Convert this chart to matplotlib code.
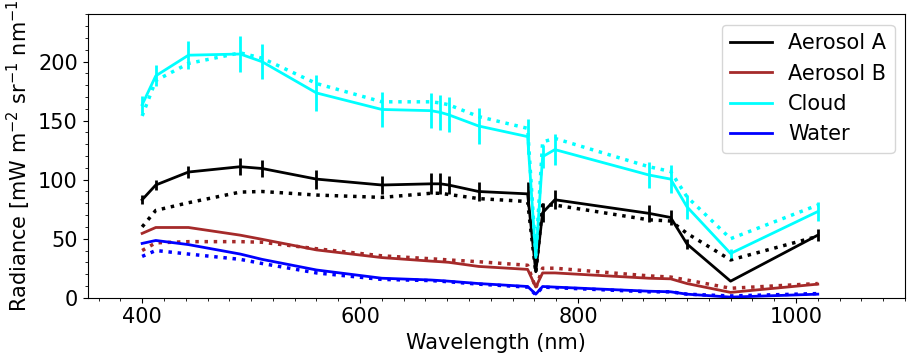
import numpy as np
import matplotlib
matplotlib.use("Agg")
import matplotlib.pyplot as plt
from matplotlib.ticker import MultipleLocator

# OLCI band centres (nm)
wl = [400, 412.5, 442.5, 490, 510, 560, 620, 665, 673.75, 681.25, 708.75,
      753.75, 761.25, 767.5, 778.75, 865, 885, 900, 940, 1020]

# Aerosol A
aer_a = [83, 95.5, 106.5, 111, 109.5, 100.5, 95.5, 96.5, 96.5, 95.5, 90,
         88, 22, 72, 83, 71.5, 68, 45.5, 14, 53]
aer_a_err = [4, 4, 5, 7, 7, 8, 8, 9, 9, 8, 8, 10, 0, 8, 8, 7, 6, 4, 0, 5]
aer_a_dot = [60, 74, 80.5, 89.5, 90, 87, 85, 88.5, 88.5, 87.5, 84, 81.5,
             21, 78.5, 78.5, 66, 65, 54.5, 32, 52]

# Aerosol B
aer_b = [54.5, 59.5, 59.5, 53, 49.5, 40.5, 34, 31, 30.5, 30, 26.5, 24, 9,
         21, 21, 16.5, 16, 12, 4.5, 11.5]
aer_b_dot = [40, 46.5, 47.5, 47.5, 47, 41.5, 35.5, 33, 32.5, 32, 30.5, 27.5,
             8, 25, 25, 18.5, 17.5, 15, 8, 12]

# Cloud
cloud = [163.5, 188, 205.5, 206.5, 200, 173.5, 159.5, 158.5, 157, 155, 145.5,
         136.5, 34, 119.5, 125.5, 104, 100.5, 77, 37.5, 73]
cloud_err = [7, 9, 12, 15, 15, 15, 15, 15, 15, 15, 15, 15, 0, 10, 13, 11,
             12, 10, 4, 8]
cloud_dot = [154, 184, 198.5, 207.5, 203, 181.5, 166, 166, 165, 163.5, 153.5,
             143.5, 36, 132, 135, 111, 107, 85.5, 50, 78.5]

# Water
water = [46, 48.5, 45, 37, 32.5, 23.5, 16.5, 15, 14.5, 14, 12, 9.5, 3, 9.5,
         9, 5.5, 5, 3, 0.5, 3]
water_dot = [35, 40, 37, 32.5, 29, 21, 15.5, 14.5, 14, 13.5, 11.5, 9, 2.5,
             9, 8.5, 5, 5, 3, 1.5, 3.5]

labels = ["Aerosol A", "Aerosol B", "Cloud", "Water"]
colours = ["black", "brown", "cyan", "blue"]

plt.rcParams['font.size'] = 15
fig = plt.figure(figsize=(9.15, 3.62), dpi=100)
ax = fig.add_axes([0.0958, 0.1776, 0.8932, 0.7824])

solid = [aer_a, aer_b, cloud, water]
dotted = [aer_a_dot, aer_b_dot, cloud_dot, water_dot]
errs = [aer_a_err, None, cloud_err, None]

for s, d, e, c, lab in zip(solid, dotted, errs, colours, labels):
    ax.plot(wl, s, color=c, lw=2, label=lab)
    if e is not None:
        ax.errorbar(wl, s, yerr=e, fmt='none', ecolor=c, elinewidth=2,
                    capsize=0)
    ax.plot(wl, d, color=c, lw=2.5, ls=':')

ax.set_xlim(350, 1100)
ax.set_ylim(0, 240)
ax.xaxis.set_major_locator(MultipleLocator(200))
ax.xaxis.set_minor_locator(MultipleLocator(20))
ax.yaxis.set_major_locator(MultipleLocator(50))
ax.yaxis.set_minor_locator(MultipleLocator(10))
ax.set_xlabel("Wavelength (nm)")
ax.set_ylabel(r"Radiance [mW m$^{-2}$ sr$^{-1}$ nm$^{-1}$")
ax.legend(loc="upper right", fontsize=15)

fig.savefig("out.png", dpi=100)
